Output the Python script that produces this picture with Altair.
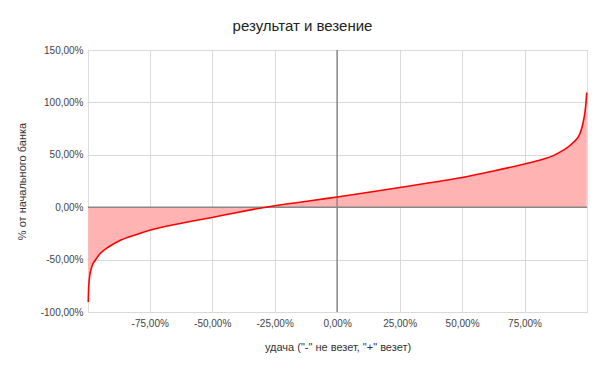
import altair as alt
import pandas as pd

# x: удача (%), y: % от начального банка
luck = [-99.6, -99.5, -99.2, -98.4, -96.8, -94.8, -91.5, -87.5, -80.8, -75.0,
        -62.8, -50.0, -40.0, -28.5, -25.0, -12.0, 0.0, 12.0, 25.0, 37.0,
        50.0, 62.0, 75.0, 82.0, 86.5, 90.5, 94.5, 97.2, 98.5, 99.2, 99.6, 99.9]
bank = [-90.4, -80.0, -69.7, -58.5, -50.6, -44.2, -38.0, -32.5, -26.5, -22.0,
        -15.5, -9.8, -5.0, 0.0, 1.4, 5.6, 9.8, 14.0, 18.8, 23.3,
        28.4, 34.3, 41.3, 45.6, 49.2, 54.4, 61.7, 70.3, 81.5, 91.0, 100.0, 109.5]
x_ticks = [-75, -50, -25, 0, 25, 50, 75]
y_ticks = [-100, -50, 0, 50, 100, 150]

df = pd.DataFrame({"x": luck, "y": bank})
FONT = "Arial, Liberation Sans, sans-serif"

fmt = "(datum.value < 0 ? '-' : '') + replace(format(abs(datum.value), '.2f'), '.', ',') + '%'"

xs = alt.Scale(domain=[-99.7, 100.0], nice=False, zero=False)
ys = alt.Scale(domain=[-100, 150], nice=False)

x_enc = alt.X("x:Q", scale=xs, title='удача ("-" не везет, "+" везет)',
              axis=alt.Axis(values=x_ticks, labelExpr=fmt, ticks=False, domain=False,
                            gridColor="#d9d9d9", labelPadding=6, labelFont=FONT,
                            labelFontSize=10, labelColor="#444444",
                            titleFont=FONT, titleFontSize=11, titleFontWeight="normal",
                            titleColor="#333333", titleY=35, titleBaseline="middle"))
y_enc = alt.Y("y:Q", scale=ys, title="% от начального банка",
              axis=alt.Axis(values=y_ticks, labelExpr=fmt, ticks=False, domain=False,
                            gridColor="#d9d9d9", labelPadding=5, labelFont=FONT,
                            labelFontSize=10, labelColor="#444444",
                            titleFont=FONT, titleFontSize=11, titleFontWeight="normal",
                            titleColor="#333333", titleX=-66, titleY=131,
                            titleAngle=-90, titleAlign="center", titleBaseline="middle"))

base = alt.Chart(df)
area = base.mark_area(color="#ffb3b3", opacity=1, interpolate="monotone").encode(x=x_enc, y=y_enc)
line = base.mark_line(color="#ff0000", strokeWidth=1.6, interpolate="monotone").encode(x="x:Q", y="y:Q")

zero_df = pd.DataFrame({"v": [0]})
hzero = alt.Chart(zero_df).mark_rule(color="#888888", strokeWidth=1.5).encode(y=alt.Y("v:Q", scale=ys))
vzero = alt.Chart(zero_df).mark_rule(color="#888888", strokeWidth=1.5).encode(x=alt.X("v:Q", scale=xs))

chart = alt.layer(area, hzero, vzero, line).properties(
    width=499, height=262,
    title=alt.TitleParams("результат и везение", font=FONT, fontSize=15,
                          fontWeight="normal", color="#222222", anchor="middle",
                          dx=-35, offset=11),
    autosize=alt.AutoSizeParams(type="none"),
    padding={"left": 88, "top": 50, "right": 19, "bottom": 58},
).configure_view(stroke=None).configure(background="white")

chart.save("out.html", embed_options={"renderer": "svg", "actions": False})
